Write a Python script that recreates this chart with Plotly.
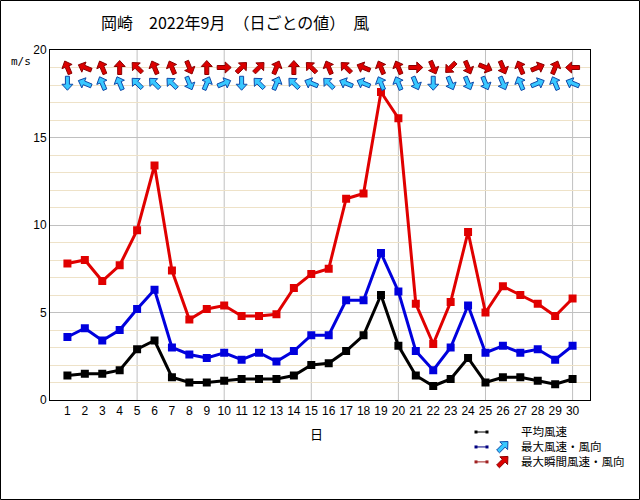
import math
import plotly.graph_objects as go

days = list(range(1, 31))
avg_speed = [1.4, 1.5, 1.5, 1.7, 2.9, 3.4, 1.3, 1.0, 1.0, 1.1, 1.2, 1.2, 1.2, 1.4, 2.0,
             2.1, 2.8, 3.7, 6.0, 3.1, 1.4, 0.8, 1.2, 2.4, 1.0, 1.3, 1.3, 1.1, 0.9, 1.2]
max_speed = [3.6, 4.1, 3.4, 4.0, 5.2, 6.3, 3.0, 2.6, 2.4, 2.7, 2.3, 2.7, 2.2, 2.8, 3.7,
             3.7, 5.7, 5.7, 8.4, 6.2, 2.8, 1.7, 3.0, 5.4, 2.7, 3.1, 2.7, 2.9, 2.3, 3.1]
gust_speed = [7.8, 8.0, 6.8, 7.7, 9.7, 13.4, 7.4, 4.6, 5.2, 5.4, 4.8, 4.8, 4.9, 6.4, 7.2,
              7.5, 11.5, 11.8, 17.6, 16.1, 5.5, 3.2, 5.6, 9.6, 5.0, 6.5, 6.0, 5.5, 4.8, 5.8]
# direction the drawn arrow points (16 compass points)
max_arrow = ["S", "WNW", "NNW", "NNW", "NW", "NW", "NW", "SSE", "NNE", "ENE",
             "S", "NW", "NNE", "NW", "WNW", "NW", "WNW", "WNW", "NNW", "NNW",
             "SSE", "S", "SSE", "SSE", "SSE", "SSE", "NNW", "ENE", "NNW", "WNW"]
gust_arrow = ["NNW", "WNW", "NNW", "N", "NW", "NNW", "NNW", "SSE", "N", "E",
              "NE", "NE", "NNE", "N", "NW", "NNW", "NW", "WNW", "NNW", "NNW",
              "E", "SSE", "SW", "SSE", "ESE", "SSE", "NNW", "ENE", "NNE", "W"]
y_ticks = [0, 5, 10, 15, 20]
title = "岡崎　2022年9月　（日ごとの値）　風"
legend_labels = ["平均風速", "最大風速・風向", "最大瞬間風速・風向"]

compass = ["N", "NNE", "NE", "ENE", "E", "ESE", "SE", "SSE",
           "S", "SSW", "SW", "WSW", "W", "WNW", "NW", "NNW"]
angle_of = {c: i * 22.5 for i, c in enumerate(compass)}

ML, MR, MT, MB = 50, 50, 50, 100
W, H = 640, 500
PW, PH = W - ML - MR, H - MT - MB

RED_FILL, RED_EDGE = "#dd0000", "#8a0000"
BLUE_FILL, BLUE_EDGE = "#38c8ff", "#1048a8"

fig = go.Figure()

series = [
    (avg_speed, "#000000"),
    (max_speed, "#0000dd"),
    (gust_speed, "#e00000"),
]
for vals, col in series:
    fig.add_trace(go.Scatter(
        x=days, y=vals, mode="lines+markers",
        line=dict(color=col, width=3),
        marker=dict(symbol="square", size=8, color=col),
        showlegend=False, hoverinfo="x+y",
    ))

shapes = []
annotations = []

# block arrow outline (pointing up, pixel units, y up)
ARROW_PTS = [(0, 7), (5.5, 1), (2, 1), (2, -7), (-2, -7), (-2, 1), (-5.5, 1)]


def add_arrow(xv, yv, ang, fill, edge, xref="x", yref="y", scale=1.0):
    t = math.radians(ang)
    c, s = math.cos(t), math.sin(t)
    pts = []
    for (x, y) in ARROW_PTS:
        x *= scale
        y *= scale
        pts.append((x * c + y * s, -x * s + y * c))
    path = "M " + " L ".join(f"{a:.2f},{b:.2f}" for a, b in pts) + " Z"
    shapes.append(dict(type="path", path=path, xref=xref, yref=yref,
                       xsizemode="pixel", ysizemode="pixel",
                       xanchor=xv, yanchor=yv,
                       fillcolor=fill, line=dict(color=edge, width=1),
                       layer="above"))


RED_ROW, BLUE_ROW = 19.0, 18.1
for d, a in zip(days, gust_arrow):
    add_arrow(d, RED_ROW, angle_of[a], RED_FILL, RED_EDGE)
for d, a in zip(days, max_arrow):
    add_arrow(d, BLUE_ROW, angle_of[a], BLUE_FILL, BLUE_EDGE)


def px(xp):
    return (xp - ML) / PW


def py(yp):
    return (H - MB - yp) / PH


# vertical grid lines every 5 days
for d in days:
    if d % 5 == 0:
        shapes.append(dict(type="line", xref="x", yref="paper", x0=d, x1=d, y0=0, y1=1,
                           line=dict(color="#c0c0c0", width=1), layer="below"))

# legend
LEG_FS = 11.5
leg_step = LEG_FS * 1.3
leg_top = 431
leg_rows = [leg_top + i * leg_step for i in range(3)]
leg_col = ["#000000", "#000080", "#a02020"]
for yy, c in zip(leg_rows, leg_col):
    yy = yy + 1
    shapes.append(dict(type="line", xref="paper", yref="paper",
                       x0=px(476), x1=px(487), y0=py(yy), y1=py(yy),
                       line=dict(color=c, width=1)))
    for xx in (476, 487):
        shapes.append(dict(type="rect", xref="paper", yref="paper",
                           x0=px(xx - 1.5), x1=px(xx + 1.5), y0=py(yy - 1.5), y1=py(yy + 1.5),
                           line=dict(width=0), fillcolor=c))
add_arrow(px(503), py(leg_rows[1] + 0.5), 45, BLUE_FILL, BLUE_EDGE, xref="paper", yref="paper")
add_arrow(px(503), py(leg_rows[2] + 0.5), 45, RED_FILL, RED_EDGE, xref="paper", yref="paper")
annotations.append(dict(x=px(519), y=py(leg_rows[1]), xref="paper", yref="paper",
                        text="<br>".join(legend_labels), align="left",
                        showarrow=False, xanchor="left", yanchor="middle",
                        font=dict(family="Noto Sans CJK JP", size=LEG_FS, color="black")))

# title, unit, x label
annotations.append(dict(x=px(99), y=py(22), xref="paper", yref="paper", text=title,
                        showarrow=False, xanchor="left", yanchor="middle",
                        font=dict(family="Noto Sans CJK JP", size=16, color="black")))
annotations.append(dict(x=px(9), y=py(62), xref="paper", yref="paper", text="m/s",
                        showarrow=False, xanchor="left", yanchor="middle",
                        font=dict(family="DejaVu Sans Mono", size=11, color="black")))
annotations.append(dict(x=px(316), y=py(433), xref="paper", yref="paper", text="日",
                        showarrow=False, xanchor="center", yanchor="middle",
                        font=dict(family="Noto Sans CJK JP", size=13, color="black")))

# outer frame
shapes.append(dict(type="rect", xref="paper", yref="paper",
                   x0=px(0.5), x1=px(W - 0.5), y0=py(H - 0.5), y1=py(0.5),
                   line=dict(color="black", width=1)))

fig.update_layout(
    width=W, height=H,
    margin=dict(l=ML, r=MR, t=MT, b=MB),
    paper_bgcolor="white", plot_bgcolor="white",
    font=dict(family="Liberation Sans", size=12, color="black"),
    xaxis=dict(range=[0, 31], tickmode="array", tickvals=days,
               ticktext=[str(d) for d in days], showgrid=False, zeroline=False,
               showline=True, mirror=True, linecolor="black", linewidth=1,
               ticks="", tickfont=dict(size=12)),
    yaxis=dict(range=[0, 20], tickmode="array", tickvals=y_ticks,
               showgrid=True, gridcolor="#c0c0c0", gridwidth=1,
               minor=dict(dtick=1, showgrid=True, gridcolor="#eee2c8", gridwidth=1),
               zeroline=False, showline=True, mirror=True, linecolor="black",
               linewidth=1, ticks="", tickfont=dict(size=12)),
    shapes=shapes,
    annotations=annotations,
    showlegend=False,
)

fig.write_html("out.html")
